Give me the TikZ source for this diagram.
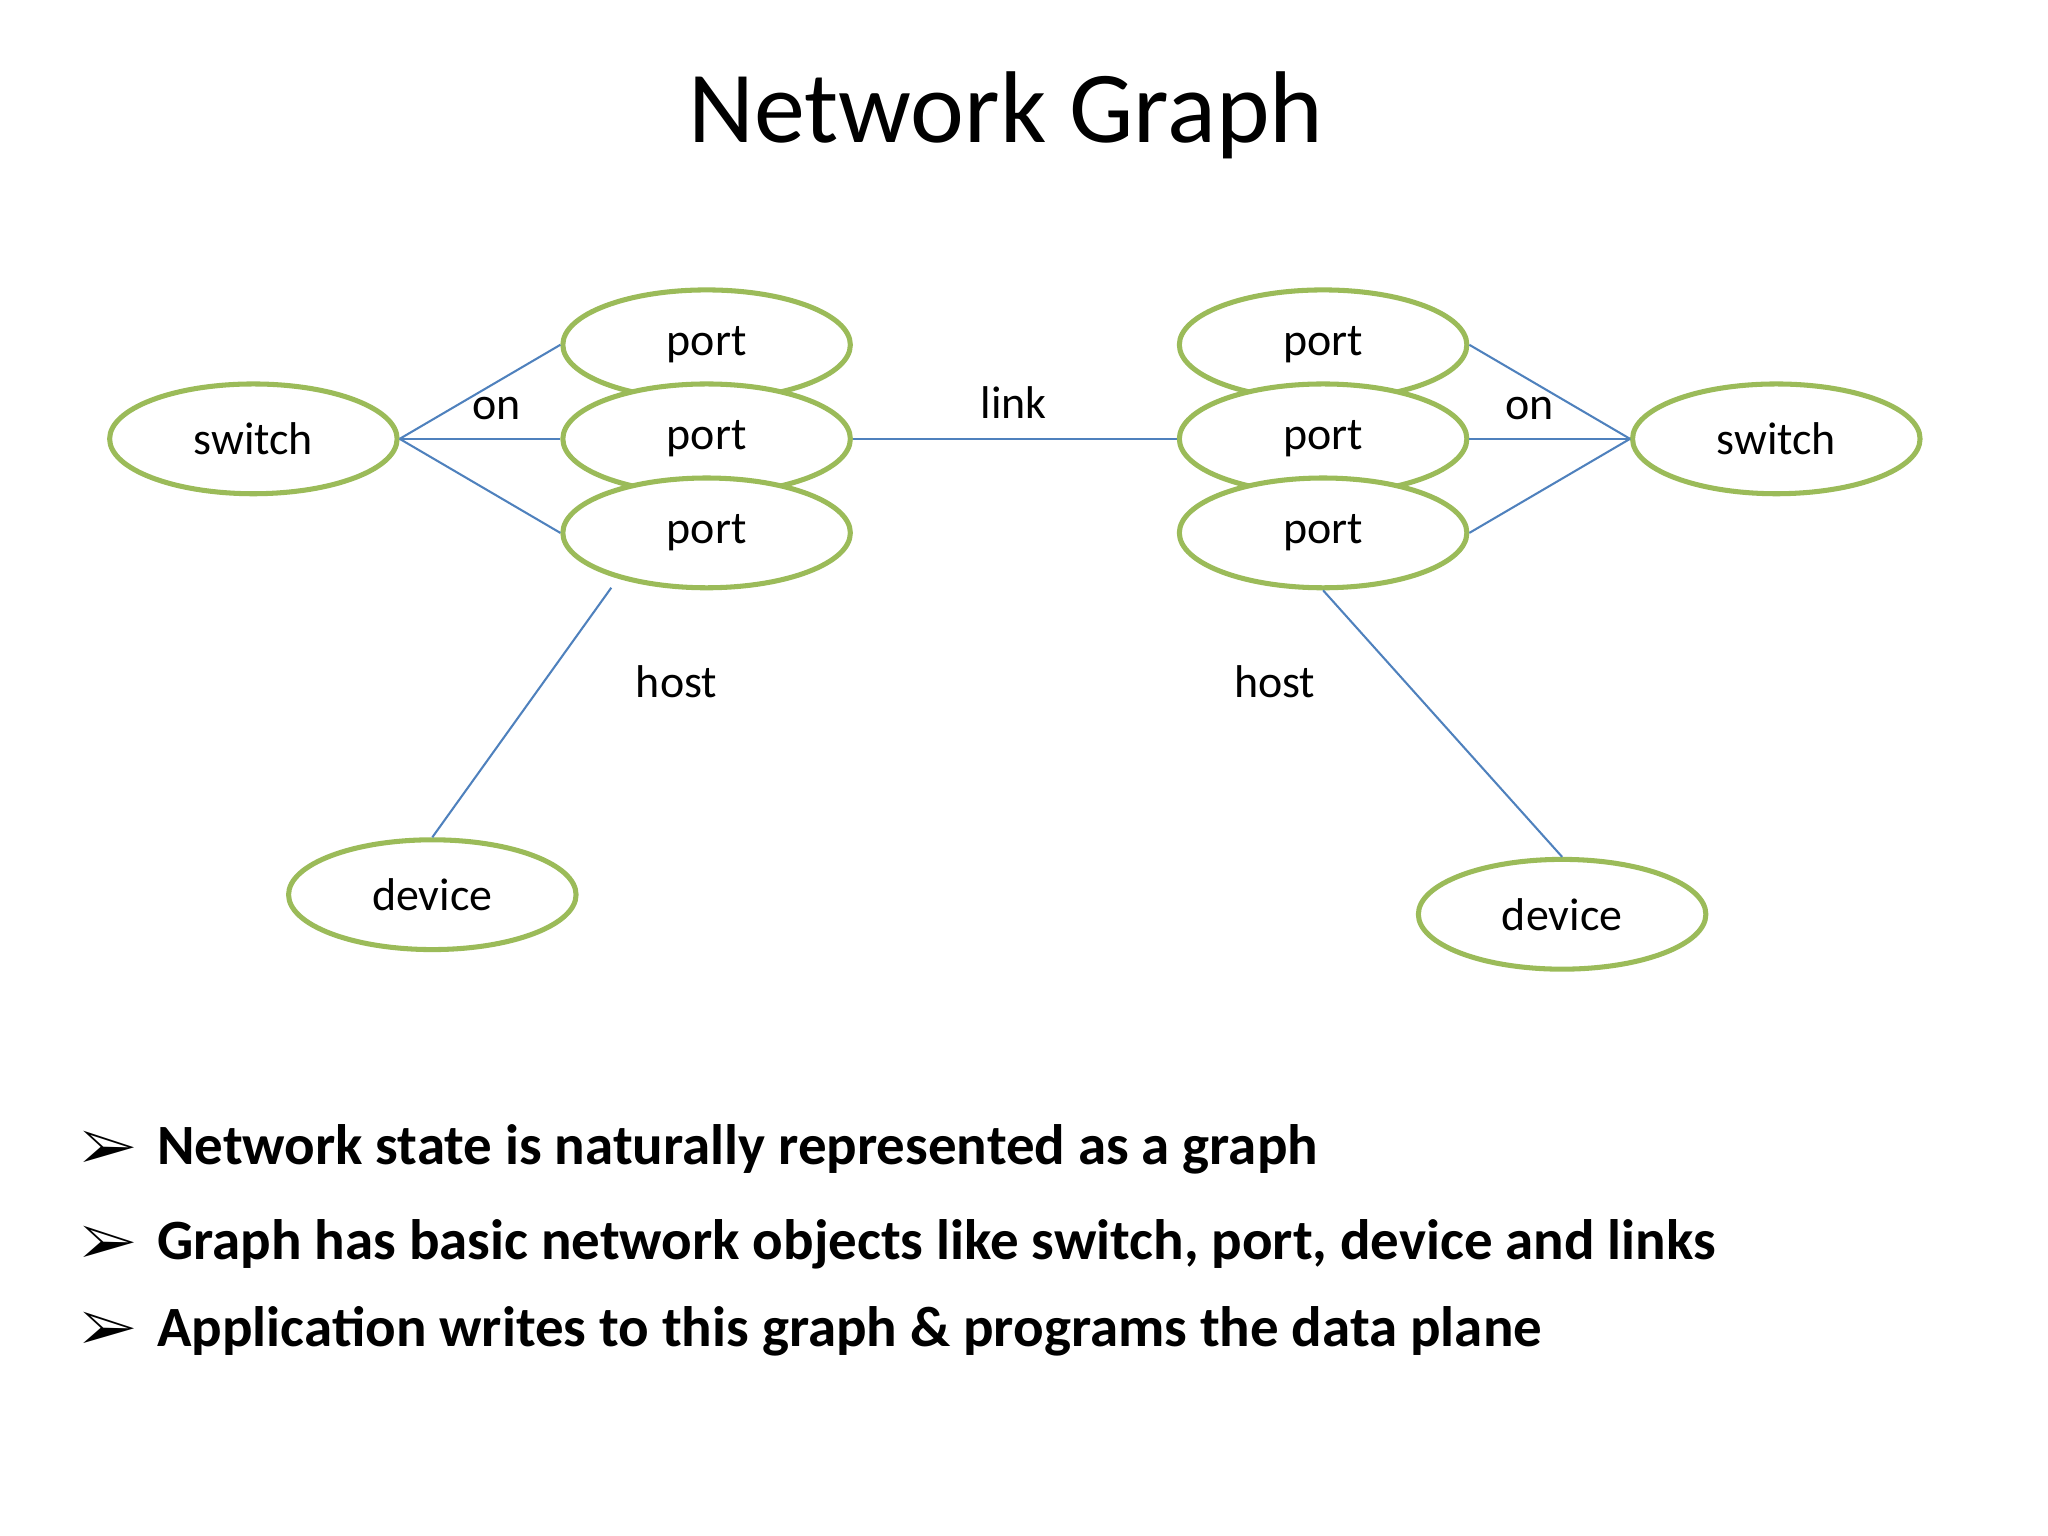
\documentclass[tikz,border=0pt]{standalone}
\usepackage{fontspec}
\setmainfont{Carlito}
\usepackage{pifont}
\usetikzlibrary{shapes.geometric}
\definecolor{eg}{HTML}{9BBB59}
\definecolor{lb}{HTML}{4F81BD}
\begin{document}
\begin{tikzpicture}[x=0.01cm,y=-0.01cm,
  el/.style={ellipse,draw=eg,line width=1.1pt,fill=white,minimum width=2.2cm,minimum height=0.84cm,inner sep=0pt,font=\fontsize{10}{12}\selectfont},
  ln/.style={draw=lb,line width=0.45pt},
  lab/.style={font=\fontsize{10}{12}\selectfont},
  arr/.style={anchor=west,font=\fontsize{13}{14}\selectfont},
  bul/.style={anchor=west,font=\fontsize{12.4}{14}\selectfont\bfseries}]
\useasboundingbox (0,0) rectangle (1568,1176);
\node[font=\fontsize{22.2}{26}\selectfont] (title) at (770,88) {Network Graph};
\node[el] (sw1) at (194,336) {switch};
\node[el] (p1) at (541,264) {port};
\node[el] (p2) at (541,336) {port};
\node[el] (p3) at (541,408) {port};
\node[el] (q1) at (1013,264) {port};
\node[el] (q2) at (1013,336) {port};
\node[el] (q3) at (1013,408) {port};
\node[el] (sw2) at (1360,336) {switch};
\node[el] (d1) at (331,685) {device};
\node[el] (d2) at (1196,700) {device};
\coordinate (h1) at (468,450);
\draw[ln] (sw1.east) -- (p1.west);
\draw[ln] (sw1.east) -- (p2.west);
\draw[ln] (sw1.east) -- (p3.west);
\draw[ln] (sw2.west) -- (q1.east);
\draw[ln] (sw2.west) -- (q2.east);
\draw[ln] (sw2.west) -- (q3.east);
\draw[ln] (p2.east) -- (q2.west);
\draw[ln] (h1) -- (d1.north);
\draw[ln] (q3.south) -- (d2.north);
\node[lab] (on1) at (380,313) {on};
\node[lab] (on2) at (1171,313) {on};
\node[lab] (link) at (776,308) {link};
\node[lab] (host1) at (518,522) {host};
\node[lab] (host2) at (976,522) {host};
\node[arr] (b1) at (50,880) {\ding{226}};
\node[arr] (b2) at (50,953) {\ding{226}};
\node[arr] (b3) at (50,1019) {\ding{226}};
\node[bul] (t1) at (108,880) {Network state is naturally represented as a graph};
\node[bul] (t2) at (108,953) {Graph has basic network objects like switch, port, device and links};
\node[bul] (t3) at (108,1019) {Application writes to this graph \& programs the data plane};
\end{tikzpicture}
\end{document}
